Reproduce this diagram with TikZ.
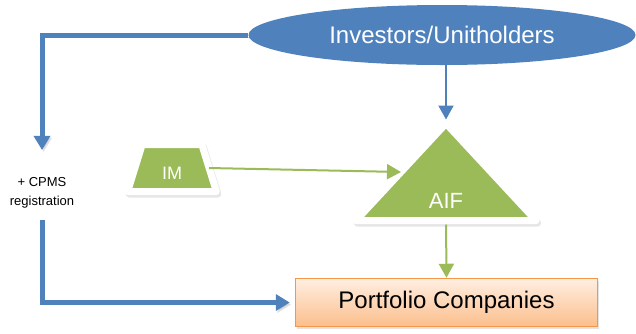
\documentclass[tikz,border=0pt]{standalone}
\usepackage{fontspec}
\setmainfont{Liberation Sans}
\usetikzlibrary{arrows.meta,positioning,shapes.geometric,shadows}

\definecolor{invblue}{RGB}{79,129,189}
\definecolor{aifgreen}{RGB}{155,187,89}
\definecolor{pforange}{RGB}{247,150,70}
\definecolor{pftop}{RGB}{255,238,226}
\definecolor{pfbottom}{RGB}{251,190,140}

\begin{document}
\begin{tikzpicture}[
  x=1pt, y=-1pt,
  softshadow/.style={drop shadow={opacity=0.22, shadow xshift=1.5pt,
                     shadow yshift=-2.5pt}},
  greenshape/.style={fill=aifgreen, draw=white, line width=7pt,
                     line join=round, inner sep=0pt, outer sep=0pt,
                     text=white,
                     drop shadow={opacity=0.2, shadow xshift=1.5pt,
                                  shadow yshift=-2.5pt, draw=black!50,
                                  line width=7pt, line join=round}},
  flow/.style={invblue, line width=5pt, ->,
               >={Triangle[length=14pt, width=16pt]},
               preaction={draw=black, opacity=0.12,
                          transform canvas={xshift=1.5pt, yshift=-2pt}}},
  link/.style={line width=2pt, ->, >={Triangle[length=14pt, width=15pt]}},
]
  \useasboundingbox (0,0) rectangle (636,333);

  \node[ellipse, fill=invblue, minimum width=387pt, minimum height=60pt,
        text=white, font=\fontsize{24}{28}\selectfont] (inv) at (442,35)
    {Investors/Unitholders};

  \node[trapezium, trapezium stretches, trapezium left angle=78,
        trapezium right angle=78, minimum width=89pt, minimum height=47pt,
        text height=23pt, greenshape, font=\fontsize{18}{22}\selectfont]
        (im) at (172,168) {IM};

  \node[isosceles triangle, isosceles triangle stretches,
        shape border rotate=90, minimum width=180pt, minimum height=97pt,
        greenshape, anchor=apex] (aif) at (446,123.5) {};
  \node[text=white, font=\fontsize{22}{26}\selectfont] (aifname) at (446,201)
    {AIF};

  \node[draw=pforange, line width=1.5pt, top color=pftop,
        bottom color=pfbottom, minimum width=302pt, minimum height=48pt,
        font=\fontsize{24}{28}\selectfont, softshadow] (pf) at (446.5,302.5)
    {Portfolio Companies};

  \node[align=center, inner sep=2pt, font=\fontsize{13}{19}\selectfont]
        (cpms) at (42,192.5) {+ CPMS\\registration};

  \draw[flow, shorten >=25pt] (inv.west) -| (cpms.north);
  \draw[flow, shorten <=10pt, shorten >=5pt] (cpms.south) |- (pf.west);
  \draw[link, invblue, shorten >=4pt] (inv.south -| aif.apex) -- (aif.apex);
  \draw[link, aifgreen] (im.east) -- (aif.left side);
  \draw[link, aifgreen, shorten <=4pt] (aif.lower side) -- (pf.north);
\end{tikzpicture}
\end{document}
